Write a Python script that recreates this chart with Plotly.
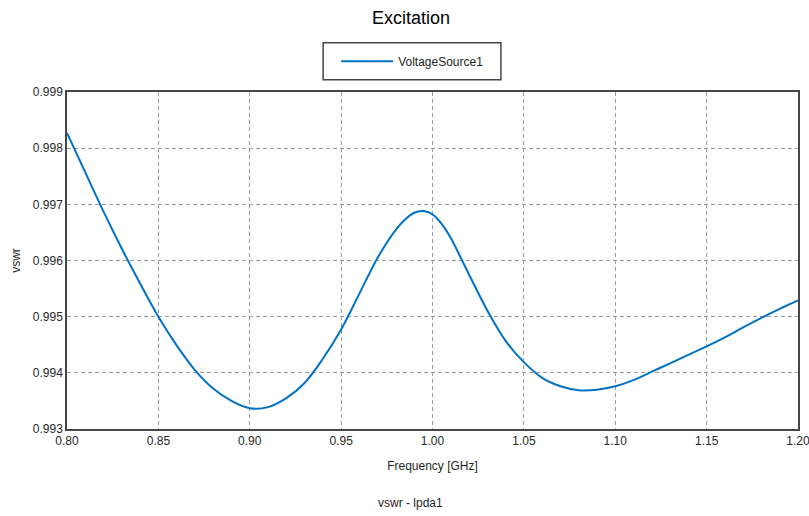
import plotly.graph_objects as go

freq_ghz = [0.80, 0.81, 0.82, 0.83, 0.84, 0.85, 0.86, 0.87, 0.88, 0.89,
            0.90, 0.91, 0.92, 0.93, 0.94, 0.95, 0.96, 0.97, 0.98, 0.985,
            0.99, 0.995, 1.00, 1.005, 1.01, 1.015, 1.02, 1.03, 1.04, 1.05,
            1.06, 1.07, 1.08, 1.09, 1.10, 1.11, 1.12, 1.13, 1.14, 1.15,
            1.16, 1.17, 1.18, 1.19, 1.20]
vswr = [0.99827, 0.99757, 0.99687, 0.99621, 0.99559, 0.99500, 0.99449, 0.99405, 0.99372, 0.99350,
        0.99337, 0.99339, 0.99355, 0.99382, 0.99425, 0.99477, 0.99541, 0.99605, 0.99655, 0.99673,
        0.99685, 0.99688, 0.99682, 0.99665, 0.99640, 0.99608, 0.99575, 0.99511, 0.99457, 0.99419,
        0.99391, 0.99376, 0.99369, 0.99370, 0.99376, 0.99387, 0.99402, 0.99417, 0.99432, 0.99447,
        0.99463, 0.99481, 0.99498, 0.99514, 0.99529]
x_ticks = [0.80, 0.85, 0.90, 0.95, 1.00, 1.05, 1.10, 1.15, 1.20]
y_ticks = [0.993, 0.994, 0.995, 0.996, 0.997, 0.998, 0.999]
series_name = "VoltageSource1"

W, H = 809, 516
L, R, T, B = 66.5, 10.5, 92.3, 87
PW, PH = W - L - R, H - T - B


def px_x(px):
    return (px - L) / PW


def px_y(py):
    return (H - B - py) / PH


fig = go.Figure()
fig.add_trace(go.Scatter(x=freq_ghz, y=vswr, mode="lines", name=series_name,
                         line=dict(color="rgb(0,114,198)", width=2, shape="spline", smoothing=1.0)))

font_family = "Liberation Sans, Arial, sans-serif"
axis_common = dict(showgrid=True, gridcolor="rgb(155,155,155)", griddash="4px,3px", gridwidth=1,
                   showline=True, linecolor="rgb(70,70,70)", linewidth=1.5, mirror=True,
                   ticks="", zeroline=False, automargin=False, ticklabeloverflow="allow",
                   tickfont=dict(family=font_family, size=12, color="rgb(40,40,40)"))

fig.update_layout(
    width=W, height=H,
    margin=dict(l=L, r=R, t=T, b=B, pad=0),
    paper_bgcolor="white", plot_bgcolor="white",
    font=dict(family=font_family, size=12, color="rgb(30,30,30)"),
    title=dict(text="Excitation", x=411 / W, xref="container", xanchor="center",
               y=1 - 18 / H, yref="container", yanchor="middle",
               font=dict(size=18, color="black")),
    showlegend=True,
    legend=dict(x=px_x(336), xanchor="left", y=px_y(61.5), yanchor="middle",
                borderwidth=0, bgcolor="rgba(0,0,0,0)",
                font=dict(size=12, color="rgb(30,30,30)"), itemwidth=52),
    xaxis=dict(range=[0.8, 1.2], tickvals=x_ticks, ticktext=[f"{v:.2f}" for v in x_ticks],
               title=dict(text="Frequency [GHz]", standoff=14, font=dict(size=12)), **axis_common),
    yaxis=dict(range=[0.993, 0.999], tickvals=y_ticks, ticktext=[f"{v:.3f}" for v in y_ticks],
               title=dict(text="vswr", standoff=10, font=dict(size=12)), **axis_common),
    shapes=[dict(type="rect", xref="paper", yref="paper",
                 x0=px_x(323), x1=px_x(501), y0=px_y(80), y1=px_y(43),
                 line=dict(color="rgb(70,70,70)", width=1.5), fillcolor="rgba(0,0,0,0)")],
    annotations=[dict(text="vswr - lpda1", x=px_x(410), xref="paper", xanchor="center",
                      y=px_y(503), yref="paper", yanchor="middle",
                      showarrow=False, font=dict(size=12, color="rgb(30,30,30)"))],
)
fig.write_html("out.html", config={"displayModeBar": False},
               post_script="document.body.style.margin='0px';document.body.style.overflow='hidden';")
